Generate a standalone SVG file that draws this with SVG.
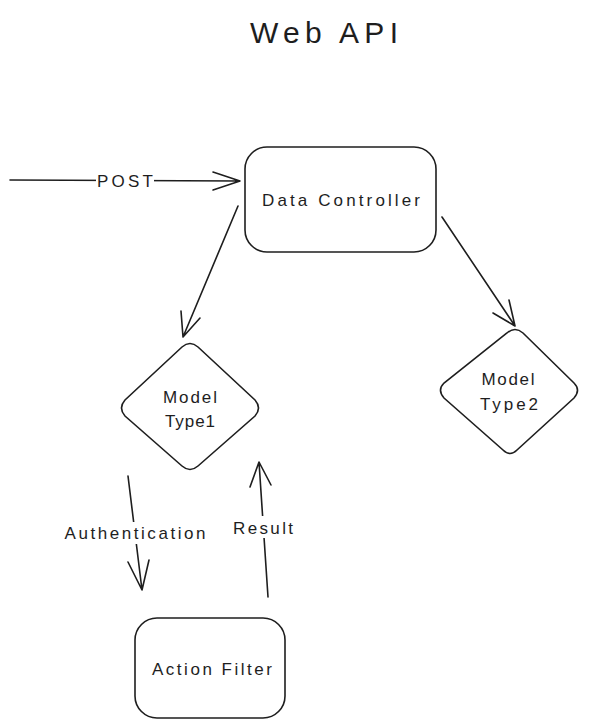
<svg xmlns="http://www.w3.org/2000/svg" width="595" height="728" viewBox="0 0 595 728">
<style>
.s{fill:none;stroke:#1e1e1e;stroke-width:1.6;stroke-linecap:round;stroke-linejoin:round}
.n{fill:#fff;stroke:#1e1e1e;stroke-width:1.6}
.t{font-family:"Liberation Sans",sans-serif;fill:#1e1e1e;text-anchor:middle;font-size:17px}
</style>
<rect width="595" height="728" fill="#fff"/>
<text class="t" x="324" y="43" style="font-size:30px" textLength="148" lengthAdjust="spacing">Web API</text>
<g id="connectors">
<path class="s" d="M10 180 L240 181 M213 172 L240 181 L213 190"/>
<rect x="96" y="171" width="58" height="20" fill="#fff"/>
<text class="t" x="125" y="187" textLength="56" lengthAdjust="spacing">POST</text>
<path class="s" d="M238 206 L183 337 M181 311 L183 337 L200 318"/>
<path class="s" d="M442 217 L515 326 M493 313 L515 326 L509 300"/>
<path class="s" d="M128 476 L142 590 M128 562 L142 590 L149 560"/>
<rect x="62" y="522" width="146" height="22" fill="#fff"/>
<text class="t" x="135" y="539" textLength="141" lengthAdjust="spacing">Authentication</text>
<path class="s" d="M268 597 L259 462 M250 487 L259 462 L271 485"/>
<rect x="230" y="516" width="66" height="22" fill="#fff"/>
<text class="t" x="263" y="534" textLength="60" lengthAdjust="spacing">Result</text>
</g>
<g id="data-controller">
<rect class="n" x="245" y="147" width="191" height="105" rx="22"/>
<text class="t" x="341" y="206" textLength="158" lengthAdjust="spacing">Data Controller</text>
</g>
<g id="model-type1">
<path class="n" d="M182 347 Q190 340 198 347 L255 400 Q262 408 255 416 L198 466 Q190 473 182 466 L125 416 Q118 408 125 400 Z"/>
<text class="t" x="190" y="403" textLength="54" lengthAdjust="spacing">Model</text>
<text class="t" x="190" y="427" textLength="50" lengthAdjust="spacing">Type1</text>
</g>
<g id="model-type2">
<path class="n" d="M507 333 Q515 326 523 333 L574 383 Q581 390 574 398 L517 450 Q510 457 503 450 L444 398 Q437 390 444 383 Z"/>
<text class="t" x="508" y="385" textLength="53" lengthAdjust="spacing">Model</text>
<text class="t" x="509" y="410" textLength="58" lengthAdjust="spacing">Type2</text>
</g>
<g id="action-filter">
<rect class="n" x="135" y="618" width="150" height="100" rx="22"/>
<text class="t" x="212" y="675" textLength="120" lengthAdjust="spacing">Action Filter</text>
</g>
</svg>
